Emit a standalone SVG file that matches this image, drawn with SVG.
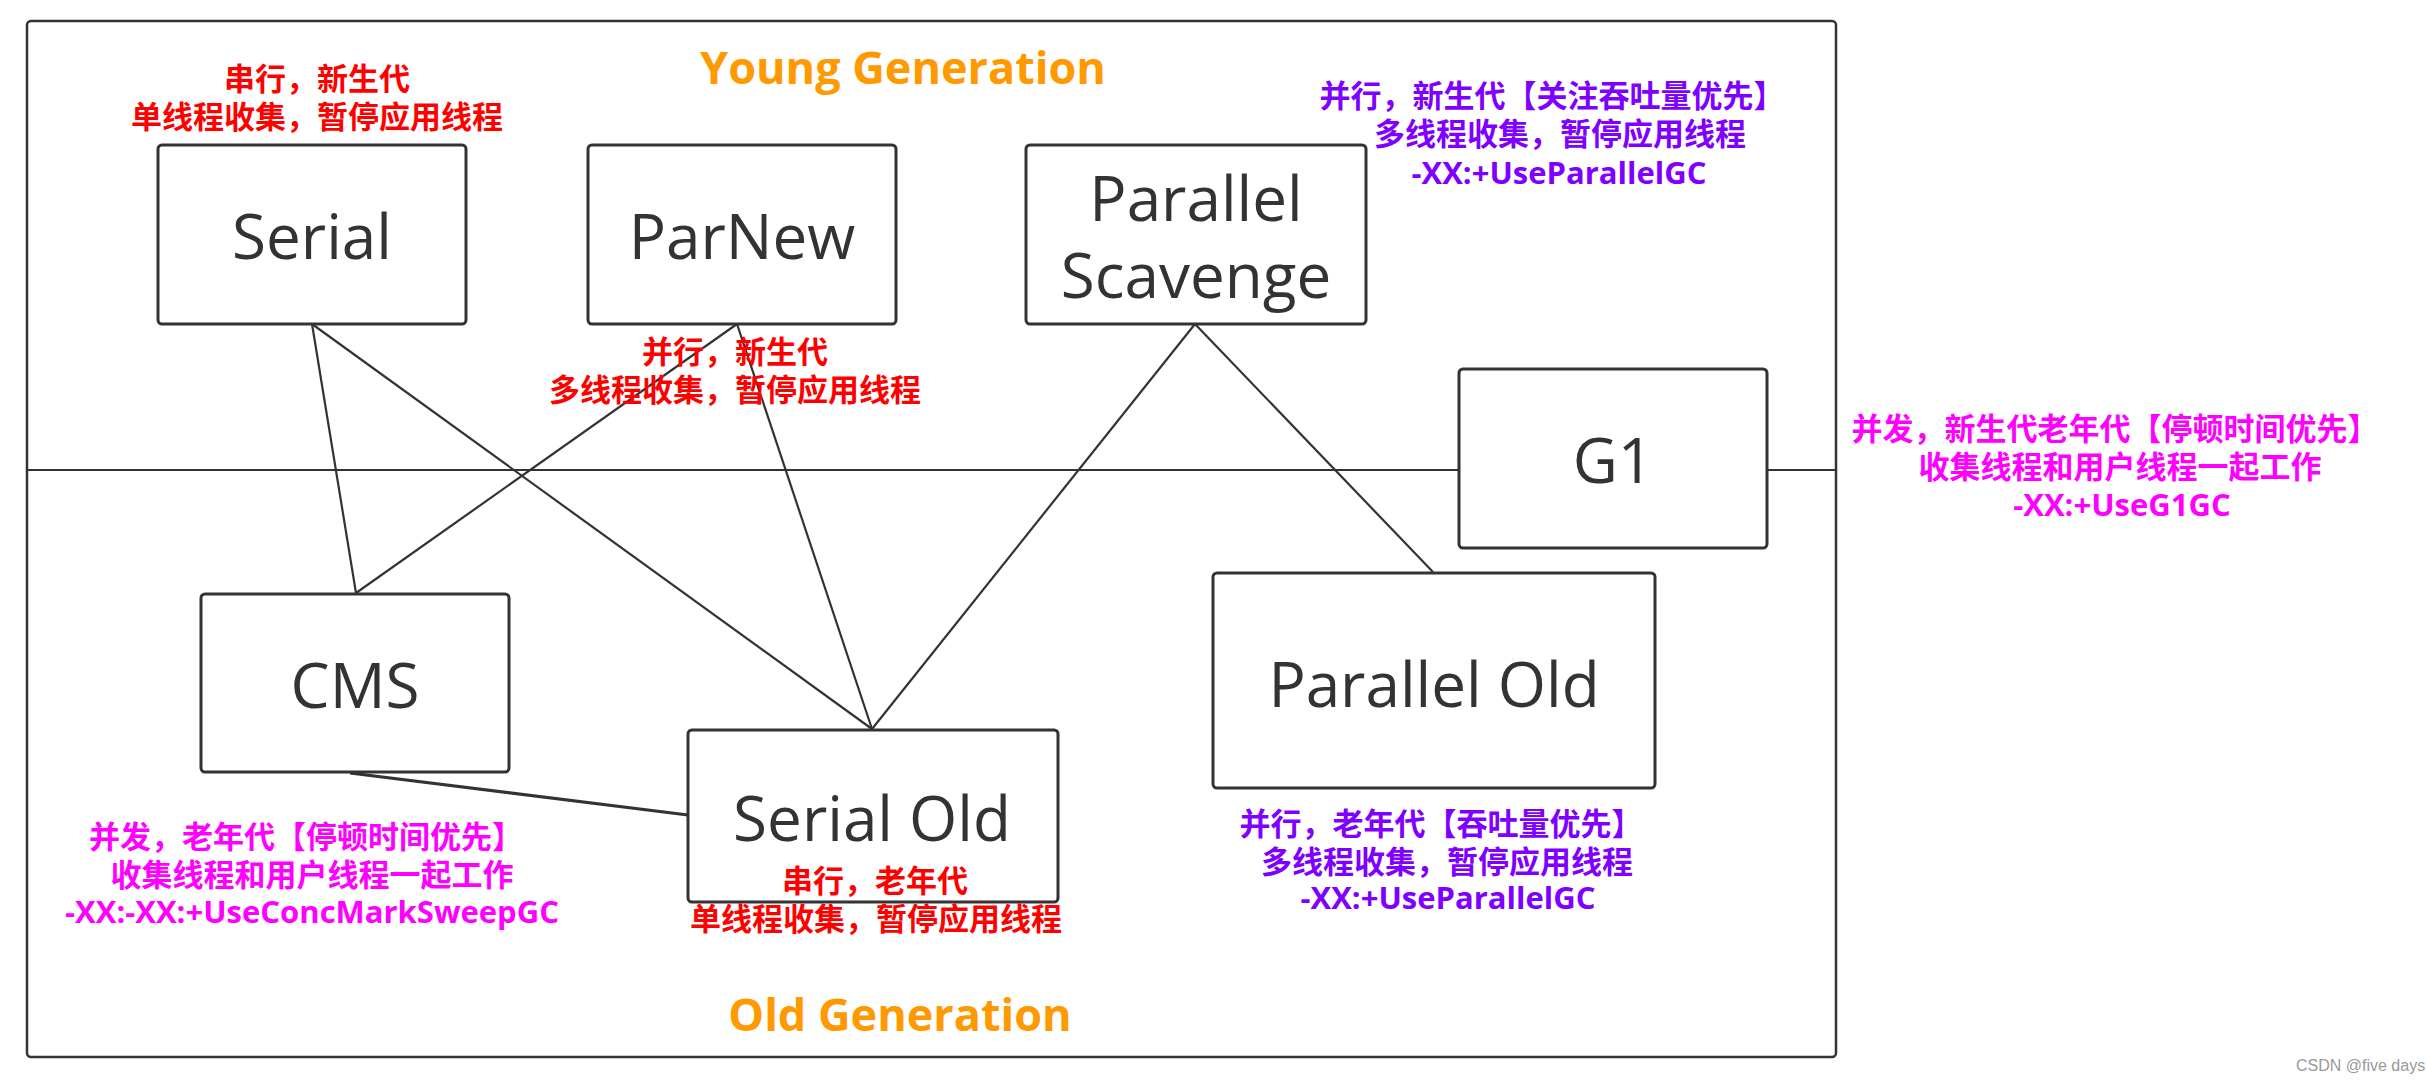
<svg xmlns="http://www.w3.org/2000/svg" width="2426" height="1082" viewBox="0 0 2426 1082">
<style>
.frame{fill:none;stroke:#333;stroke-width:2.5}
.box{fill:#fff;stroke:#333;stroke-width:3}
.ln{stroke:#333;stroke-width:2.2;fill:none}
.lbl{font-family:"Open Sans","Liberation Sans",sans-serif;font-size:62px;fill:#333;text-anchor:middle}
.gen{font-family:"Open Sans","Liberation Sans",sans-serif;font-size:45px;font-weight:bold;fill:#FF9900;text-anchor:middle}
.note{font-family:"Open Sans","Noto Sans CJK SC",sans-serif;font-size:31px;font-weight:bold;text-anchor:middle}
.red{fill:#FF0000}
.pur{fill:#8000FF}
.mag{fill:#FF00FF}
.wm{font-family:"Liberation Sans",sans-serif;font-size:16px;fill:#999}
</style>
<rect width="2426" height="1082" fill="#fff"/>
<rect class="frame" x="27" y="21" width="1809" height="1036" rx="4"/>
<g id="connectors">
<line class="ln" x1="27" y1="470" x2="1836" y2="470"/>
<line class="ln" x1="312" y1="324" x2="356" y2="593"/>
<line class="ln" x1="312" y1="324" x2="872" y2="729"/>
<line class="ln" x1="737" y1="324" x2="356" y2="593"/>
<line class="ln" x1="737" y1="324" x2="872" y2="729"/>
<line class="ln" x1="1195" y1="324" x2="872" y2="729"/>
<line class="ln" x1="1195" y1="324" x2="1433" y2="572"/>
<line class="ln" x1="350" y1="773" x2="688" y2="815" style="stroke-width:3"/>
</g>
<text class="gen" x="903" y="84">Young Generation</text>
<text class="gen" x="900" y="1031">Old Generation</text>
<g id="serial">
<rect class="box" x="158" y="145" width="308" height="179" rx="4"/>
<text class="lbl" x="312" y="259">Serial</text>
<text class="note red" x="317" y="90">串行，新生代</text>
<text class="note red" x="317" y="128">单线程收集，暂停应用线程</text>
</g>
<g id="parnew">
<rect class="box" x="588" y="145" width="308" height="179" rx="4"/>
<text class="lbl" x="742" y="259">ParNew</text>
<text class="note red" x="735" y="363">并行，新生代</text>
<text class="note red" x="735" y="401">多线程收集，暂停应用线程</text>
</g>
<g id="parallel-scavenge">
<rect class="box" x="1026" y="145" width="340" height="179" rx="4"/>
<text class="lbl" x="1196" y="221">Parallel</text>
<text class="lbl" x="1196" y="298">Scavenge</text>
<text class="note pur" x="1552" y="107">并行，新生代【关注吞吐量优先】</text>
<text class="note pur" x="1560" y="145">多线程收集，暂停应用线程</text>
<text class="note pur" x="1559" y="184">-XX:+UseParallelGC</text>
</g>
<g id="g1">
<rect class="box" x="1459" y="369" width="308" height="179" rx="4"/>
<text class="lbl" x="1613" y="483">G1</text>
<text class="note mag" x="2115" y="440">并发，新生代老年代【停顿时间优先】</text>
<text class="note mag" x="2120" y="478">收集线程和用户线程一起工作</text>
<text class="note mag" x="2122" y="516">-XX:+UseG1GC</text>
</g>
<g id="cms">
<rect class="box" x="201" y="594" width="308" height="178" rx="4"/>
<text class="lbl" x="355" y="708">CMS</text>
<text class="note mag" x="306" y="848">并发，老年代【停顿时间优先】</text>
<text class="note mag" x="312" y="886">收集线程和用户线程一起工作</text>
<text class="note mag" x="312" y="923">-XX:-XX:+UseConcMarkSweepGC</text>
</g>
<g id="serial-old">
<rect class="box" x="688" y="730" width="370" height="172" rx="4"/>
<text class="lbl" x="872" y="841">Serial Old</text>
<text class="note red" x="875" y="892">串行，老年代</text>
<text class="note red" x="876" y="930">单线程收集，暂停应用线程</text>
</g>
<g id="parallel-old">
<rect class="box" x="1213" y="573" width="442" height="215" rx="4"/>
<text class="lbl" x="1434" y="707">Parallel Old</text>
<text class="note pur" x="1441" y="835">并行，老年代【吞吐量优先】</text>
<text class="note pur" x="1447" y="873">多线程收集，暂停应用线程</text>
<text class="note pur" x="1448" y="909">-XX:+UseParallelGC</text>
</g>
<text class="wm" x="2296" y="1071">CSDN @five days</text>
</svg>
